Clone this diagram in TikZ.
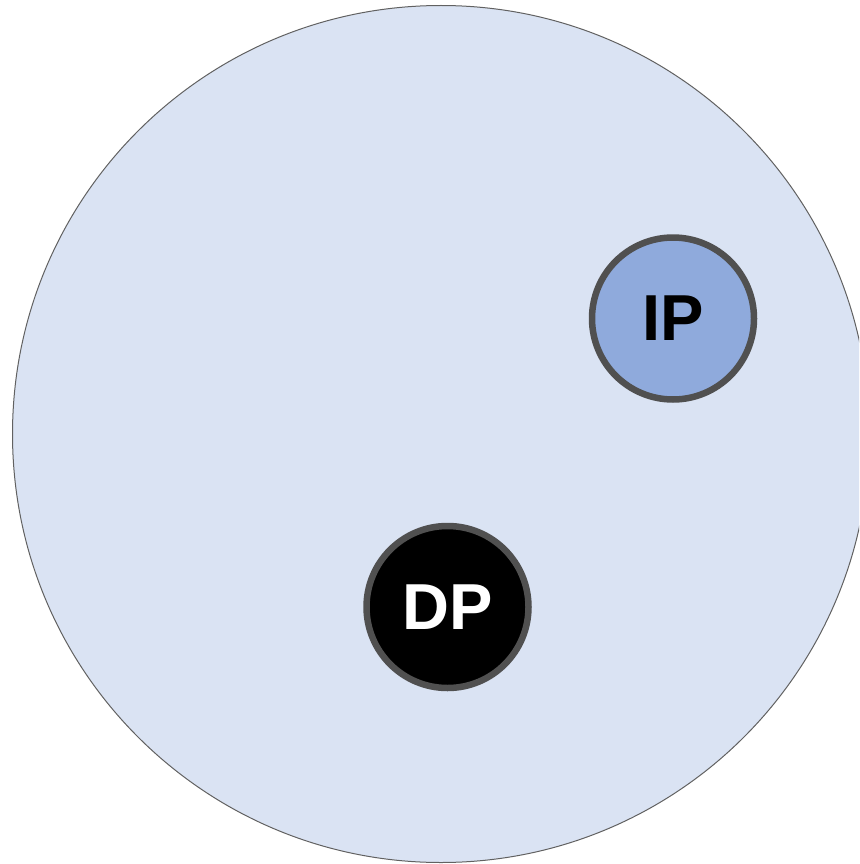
\documentclass[tikz,border=0pt]{standalone}
\usepackage{fontspec}
\setmainfont{Liberation Sans}
\definecolor{bigfill}{HTML}{DAE3F3}
\definecolor{ipfill}{HTML}{8FAADC}
\definecolor{ringcol}{HTML}{505050}
\begin{document}
\begin{tikzpicture}[x=1pt,y=-1pt,
  small/.style={circle,minimum size=162pt,inner sep=0pt,line width=6.5pt,draw=ringcol,font=\fontsize{65}{65}\selectfont\bfseries}]
\useasboundingbox (0,0) rectangle (859,864);
\begin{scope}
\clip (0,0) rectangle (859,864);
\node[circle,minimum size=857pt,inner sep=0pt,fill=bigfill,draw=ringcol!90,line width=1pt] (world) at (441,434) {};
\end{scope}
\node[small,fill=ipfill,text=black] (ip) at (673,318.5) {IP};
\node[small,fill=black,text=white] (dp) at (447.5,607) {DP};
\end{tikzpicture}
\end{document}
